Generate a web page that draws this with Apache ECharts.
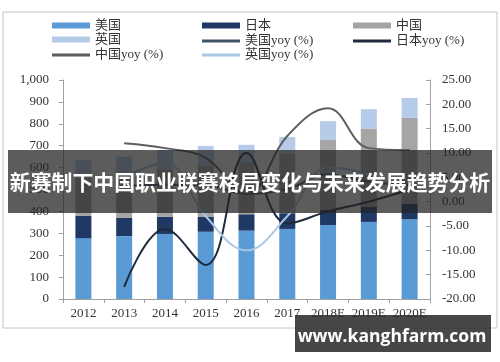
<!DOCTYPE html>
<html>
<head>
<meta charset="utf-8">
<script src="https://cdn.jsdelivr.net/npm/echarts@6/dist/echarts.min.js"></script>
<style>html,body{margin:0;padding:0;background:#fff}#c{width:500px;height:362px}</style>
</head>
<body>
<div id="c"></div>
<script>
var categories = ['2012','2013','2014','2015','2016','2017','2018E','2019E','2020E'];
var usValues = [278, 287, 297, 307, 312, 320, 338, 352, 364];
var jpValues = [101, 83, 78, 68, 75, 72, 70, 70, 72];
var cnValues = [175, 195, 214, 235, 237, 270, 320, 355, 391];
var ukValues = [81, 85, 92, 89, 80, 78, 84, 90, 91];
var usYoy = [null, 3.2, 3.5, 3.4, 1.6, 2.6, 5.6, 4.1, 3.4];
var jpYoy = [null, -17.5, -5.6, -13.0, 10.0, -4.5, -2.0, 0.0, 2.5];
var cnYoy = [null, 12.0, 11.0, 9.0, 1.5, 13.5, 19.2, 11.0, 10.6];
var ukYoy = [null, 5.0, 8.0, -3.0, -10.0, -3.0, 7.0, 5.5, 1.5];
var leftTicks = {min: 0, max: 1000, interval: 100};
var rightTicks = {min: -20, max: 25, interval: 5};
var titleText = '新赛制下中国职业联赛格局变化与未来发展趋势分析';
var siteText = 'www.kanghfarm.com';

var serif = '"Liberation Serif", "Noto Sans CJK SC", serif';
var colors = {
  us: '#5b9bd5', jp: '#1f3864', cn: '#a5a5a5', uk: '#b6cbe8',
  usL: '#44546a', jpL: '#1e2a3a', cnL: '#5e5e5e', ukL: '#a8c8e6'
};

function leg(name, left, top, h) {
  return {
    data: [{name: name, icon: 'rect'}], left: left, top: top,
    itemWidth: 38, itemHeight: h, itemGap: 6, padding: 0,
    textStyle: {fontFamily: serif, fontSize: 13, color: '#333', padding: [0,0,0,0]},
    selectedMode: false
  };
}

var chart = echarts.init(document.getElementById('c'));
chart.setOption({
  animation: false,
  legend: [
    leg('美国', 52, 19, 6), leg('日本', 202, 19, 6), leg('中国', 353, 19, 6),
    leg('英国', 52, 33, 6), leg('美国yoy (%)', 202, 34.5, 3), leg('日本yoy (%)', 353, 34.5, 3),
    leg('中国yoy (%)', 52, 48.5, 3), leg('英国yoy (%)', 202, 48.5, 3)
  ],
  grid: {left: 63, right: 70, top: 80, bottom: 63},
  xAxis: {
    type: 'category', data: categories,
    axisLine: {lineStyle: {color: '#a0a0a0'}},
    axisTick: {show: true, length: 4, lineStyle: {color: '#a0a0a0'}},
    axisLabel: {fontFamily: serif, fontSize: 13, color: '#333', margin: 8, interval: 0}
  },
  yAxis: [{
    type: 'value', min: leftTicks.min, max: leftTicks.max, interval: leftTicks.interval,
    axisLine: {show: true, lineStyle: {color: '#a0a0a0'}},
    axisTick: {show: true, length: 4, lineStyle: {color: '#a0a0a0'}},
    splitLine: {show: false},
    axisLabel: {fontFamily: serif, fontSize: 13, color: '#333', margin: 14,
      formatter: function(v){ return v.toLocaleString('en-US'); }}
  }, {
    type: 'value', min: rightTicks.min, max: rightTicks.max, interval: rightTicks.interval,
    axisLine: {show: true, lineStyle: {color: '#a0a0a0'}},
    axisTick: {show: true, inside: true, length: 4, lineStyle: {color: '#a0a0a0'}},
    splitLine: {show: false},
    axisLabel: {fontFamily: serif, fontSize: 13, color: '#333', margin: 12,
      formatter: function(v){ return v.toFixed(2); }}
  }],
  series: [
    {name: '美国', type: 'bar', stack: 't', data: usValues, barWidth: 16, itemStyle: {color: colors.us}},
    {name: '日本', type: 'bar', stack: 't', data: jpValues, barWidth: 16, itemStyle: {color: colors.jp}},
    {name: '中国', type: 'bar', stack: 't', data: cnValues, barWidth: 16, itemStyle: {color: colors.cn}},
    {name: '英国', type: 'bar', stack: 't', data: ukValues, barWidth: 16, itemStyle: {color: colors.uk}},
    {name: '美国yoy (%)', type: 'line', yAxisIndex: 1, data: usYoy, smooth: 0.4, symbol: 'none',
      lineStyle: {color: colors.usL, width: 2}, itemStyle: {color: colors.usL}},
    {name: '日本yoy (%)', type: 'line', yAxisIndex: 1, data: jpYoy, smooth: 0.4, symbol: 'none',
      lineStyle: {color: colors.jpL, width: 2}, itemStyle: {color: colors.jpL}},
    {name: '中国yoy (%)', type: 'line', yAxisIndex: 1, data: cnYoy, smooth: 0.4, symbol: 'none',
      lineStyle: {color: colors.cnL, width: 2}, itemStyle: {color: colors.cnL}},
    {name: '英国yoy (%)', type: 'line', yAxisIndex: 1, data: ukYoy, smooth: 0.4, symbol: 'none',
      lineStyle: {color: colors.ukL, width: 2}, itemStyle: {color: colors.ukL}}
  ],
  graphic: [
    {type: 'rect', shape: {x: 3, y: 12, width: 494, height: 316}, z: -1,
      style: {fill: 'none', stroke: '#c4c4c4', lineWidth: 1}},
    {type: 'rect', shape: {x: 8, y: 150, width: 484, height: 63}, z: 100,
      style: {fill: 'rgba(35,35,35,0.74)'}},
    {type: 'text', x: 250, y: 182, z: 101,
      style: {text: titleText, fill: '#fff', fontSize: 20.9, fontWeight: 'bold',
        fontFamily: '"Noto Sans CJK SC", sans-serif',
        align: 'center', verticalAlign: 'middle'}},
    {type: 'rect', shape: {x: 295, y: 315, width: 196, height: 37}, z: 100,
      style: {fill: 'rgba(45,45,45,0.88)'}},
    {type: 'text', x: 392, y: 337, z: 101,
      style: {text: siteText, fill: '#fff', fontSize: 17.5, fontWeight: 'bold',
        fontFamily: '"Open Sans", "DejaVu Sans", sans-serif',
        align: 'center', verticalAlign: 'middle'}}
  ]
});
</script>
</body>
</html>
